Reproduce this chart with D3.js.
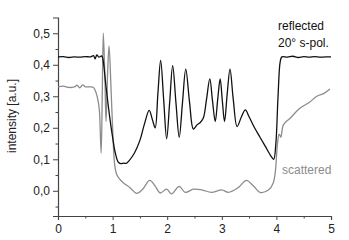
<!DOCTYPE html>
<html>
<head>
<meta charset="utf-8">
<script src="https://cdn.jsdelivr.net/npm/d3@7"></script>
<style>
  body { margin: 0; background: #fff; }
  text { font-family: "Liberation Sans", Arial, sans-serif; }
</style>
</head>
<body>
<svg id="chart" width="349" height="240"></svg>
<script>
// dati
const reflected = [
    [0, 0.425], [0.1, 0.426], [0.2, 0.423], [0.3, 0.425], [0.4, 0.424], [0.5, 0.426],
    [0.6, 0.425], [0.65, 0.429], [0.68, 0.419], [0.71, 0.431], [0.75, 0.424], [0.8, 0.428],
    [0.82, 0.42], [0.88, 0.33], [0.95, 0.23], [1.0, 0.17], [1.05, 0.12], [1.1, 0.092],
    [1.15, 0.086], [1.2, 0.088], [1.25, 0.087], [1.3, 0.095], [1.4, 0.12], [1.5, 0.16],
    [1.58, 0.21], [1.67, 0.255], [1.73, 0.225], [1.78, 0.2], [1.83, 0.31], [1.88, 0.414],
    [1.935, 0.29], [1.99, 0.165], [2.045, 0.28], [2.1, 0.397], [2.16, 0.28], [2.22, 0.17],
    [2.28, 0.28], [2.34, 0.386], [2.41, 0.28], [2.48, 0.196], [2.55, 0.21], [2.6, 0.216],
    [2.66, 0.23], [2.72, 0.29], [2.78, 0.355], [2.83, 0.285], [2.88, 0.22], [2.925, 0.29],
    [2.97, 0.355], [3.01, 0.285], [3.05, 0.22], [3.1, 0.31], [3.15, 0.386], [3.21, 0.29],
    [3.28, 0.204], [3.36, 0.235], [3.43, 0.257], [3.5, 0.235], [3.6, 0.2], [3.7, 0.17],
    [3.8, 0.14], [3.9, 0.11], [3.95, 0.1], [3.99, 0.15], [4.03, 0.3], [4.07, 0.41],
    [4.1, 0.425], [4.2, 0.424], [4.3, 0.427], [4.4, 0.423], [4.5, 0.426], [4.6, 0.424],
    [4.7, 0.426], [4.8, 0.424], [4.9, 0.425], [5.0, 0.425]
];

const scattered = [
    [0, 0.33], [0.1, 0.332], [0.2, 0.328], [0.3, 0.33], [0.35, 0.335], [0.4, 0.327],
    [0.45, 0.336], [0.5, 0.33], [0.6, 0.33], [0.65, 0.328], [0.7, 0.31], [0.74, 0.28],
    [0.76, 0.25], [0.79, 0.12], [0.81, 0.3], [0.83, 0.5], [0.86, 0.35], [0.88, 0.22],
    [0.91, 0.38], [0.935, 0.46], [0.97, 0.33], [1.0, 0.2], [1.04, 0.08], [1.08, 0.05],
    [1.14, 0.035], [1.2, 0.025], [1.32, 0.01], [1.44, -0.008], [1.55, 0.005], [1.68, 0.033],
    [1.78, 0.015], [1.87, -0.007], [1.99, 0.005], [2.08, -0.01], [2.22, 0.014], [2.33, -0.005],
    [2.48, 0.005], [2.63, 0.003], [2.81, -0.005], [3.0, 0.003], [3.12, -0.005], [3.3, 0.01],
    [3.45, 0.033], [3.58, 0.015], [3.7, -0.005], [3.86, 0.003], [3.94, 0.024], [3.98, 0.06],
    [4.02, 0.15], [4.05, 0.18], [4.08, 0.17], [4.13, 0.21], [4.25, 0.23], [4.43, 0.262],
    [4.6, 0.28], [4.74, 0.3], [4.88, 0.31], [4.98, 0.323]
];

const xTicks = [0, 1, 2, 3, 4, 5];
const yTicks = [0, 0.1, 0.2, 0.3, 0.4, 0.5];
const xMinor = [0.5, 1.5, 2.5, 3.5, 4.5];
const yMinor = [-0.05, 0.05, 0.15, 0.25, 0.35, 0.45];

const svg = d3.select("#chart");

const x = d3.scaleLinear().domain([0, 5]).range([58, 331]);
const y = d3.scaleLinear().domain([-0.08, 0.55]).range([216, 17.5]);

const fmt = d => d3.format(".1f")(d).replace(".", ",");
const axisColor = "#444";

// assi
svg.append("g").attr("transform", "translate(0,216)")
    .call(d3.axisBottom(x).tickValues(xTicks).tickSize(4).tickPadding(4).tickFormat(d3.format("d")));
svg.append("g").attr("transform", "translate(0,216)")
    .call(d3.axisBottom(x).tickValues(xMinor).tickSize(2.5).tickFormat(""))
    .select(".domain").remove();

svg.append("g").attr("transform", "translate(58,0)")
    .call(d3.axisLeft(y).tickValues(yTicks).tickSize(5).tickPadding(3).tickFormat(fmt));
svg.append("g").attr("transform", "translate(58,0)")
    .call(d3.axisLeft(y).tickValues(yMinor).tickSize(2.5).tickFormat(""))
    .select(".domain").remove();

svg.selectAll(".domain").attr("stroke", axisColor).attr("stroke-width", 1.2);
svg.selectAll(".tick line").attr("stroke", axisColor);
svg.selectAll(".tick text").attr("fill", "#222").style("font-size", "12px");

// linee
const line = d3.line()
    .x(d => x(d[0]))
    .y(d => y(d[1]))
    .curve(d3.curveCatmullRom.alpha(0.5));

svg.append("path")
    .datum(scattered)
    .attr("fill", "none")
    .attr("stroke", "#8c8c8c")
    .attr("stroke-width", 1.3)
    .attr("d", line);

svg.append("path")
    .datum(reflected)
    .attr("fill", "none")
    .attr("stroke", "#111")
    .attr("stroke-width", 1.3)
    .attr("d", line);

// testi
svg.append("text")
    .attr("x", 278).attr("y", 30)
    .style("font-size", "12px").attr("fill", "#111")
    .text("reflected");
svg.append("text")
    .attr("x", 278).attr("y", 47)
    .style("font-size", "12px").attr("fill", "#111")
    .text("20° s-pol.");
svg.append("text")
    .attr("x", 282).attr("y", 174)
    .style("font-size", "12px").attr("fill", "#8c8c8c")
    .text("scattered");

svg.append("text")
    .attr("transform", "translate(16,116) rotate(-90)")
    .attr("text-anchor", "middle")
    .style("font-size", "12px").attr("fill", "#222")
    .text("intensity [a.u.]");
</script>
</body>
</html>
